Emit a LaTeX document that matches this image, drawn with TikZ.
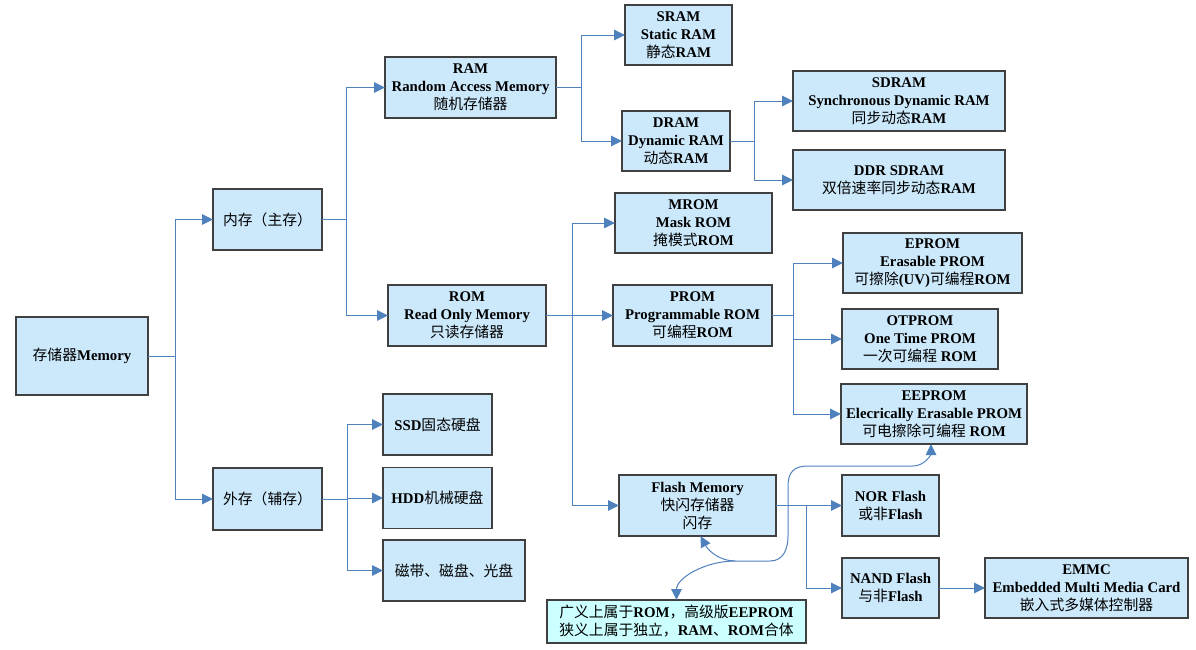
\documentclass[tikz,border=0pt]{standalone}
\usepackage{fontspec}
\setmainfont{Liberation Serif}
\newfontfamily\cjkfont{Noto Sans CJK SC}
\usepackage{tikz}
\usetikzlibrary{positioning, arrows.meta}
\definecolor{myboxblue}{RGB}{204, 233, 252}
\definecolor{mynotecyan}{RGB}{204, 255, 255}
\definecolor{mylineblue}{RGB}{79, 129, 189}
\newcommand{\zh}[1]{{\cjkfont\mdseries #1}}

\begin{document}
\begin{tikzpicture}[x = 1pt, y = -1pt, > = {Triangle[length = 11pt, width = 10.5pt]},
  block/.style={draw = black!75, line width = 1.2pt, fill = myboxblue, align = center, inner sep = 0pt, outer sep = 0pt,
    font = \bfseries\fontsize{14.8}{18}\selectfont},
  link/.style={->, draw = mylineblue, line width = 1pt}]
  \useasboundingbox (0,0) rectangle (1196,649);

  % nodes
  \node [block, minimum width = 132pt, minimum height = 78pt] (storage) at (82,356) {\zh{存储器}Memory};

  \node [block, minimum width = 109pt, minimum height = 61pt] [right = 65pt of storage, yshift = 136.5pt] (main-mem) {\zh{内存（主存）}};
  \node [block, minimum width = 109pt, minimum height = 62pt] [right = 65pt of storage, yshift = -143pt] (ext-mem) {\zh{外存（辅存）}};

  \node [block, minimum width = 171pt, minimum height = 61pt] [right = 63pt of main-mem, yshift = 132pt] (ram) {RAM\\Random Access Memory\\\zh{随机存储器}};
  \node [block, minimum width = 158pt, minimum height = 61pt] [right = 66pt of main-mem, yshift = -96pt] (rom) {ROM\\Read Only Memory\\\zh{只读存储器}};

  \node [block, minimum width = 109pt, minimum height = 61pt] [right = 61pt of ext-mem, yshift = 74.5pt] (ssd) {SSD\zh{固态硬盘}};
  \node [block, minimum width = 109pt, minimum height = 61pt] [right = 61pt of ext-mem, yshift = 1pt] (hdd) {HDD\zh{机械硬盘}};
  \node [block, minimum width = 142pt, minimum height = 61pt] [right = 61pt of ext-mem, yshift = -71.5pt] (tape) {\zh{磁带、磁盘、光盘}};

  \node [block, minimum width = 107pt, minimum height = 60pt] [right = 69pt of ram, yshift = 52.5pt] (sram) {SRAM\\Static RAM\\\zh{静态}RAM};
  \node [block, minimum width = 108pt, minimum height = 60pt] [right = 66pt of ram, yshift = -53.5pt] (dram) {DRAM\\Dynamic RAM\\\zh{动态}RAM};

  \node [block, minimum width = 212pt, minimum height = 60pt] [right = 63pt of dram, yshift = 40pt] (sdram) {SDRAM\\Synchronous Dynamic RAM\\\zh{同步动态}RAM};
  \node [block, minimum width = 212pt, minimum height = 60pt] [right = 63pt of dram, yshift = -39pt] (ddr-sdram) {DDR SDRAM\\\zh{双倍速率同步动态}RAM};

  \node [block, minimum width = 157pt, minimum height = 60pt] [right = 69pt of rom, yshift = 92.5pt] (mrom) {MROM\\Mask ROM\\\zh{掩模式}ROM};
  \node [block, minimum width = 159pt, minimum height = 61pt] [right = 67pt of rom] (prom) {PROM\\Programmable ROM\\\zh{可编程}ROM};
  \node [block, minimum width = 157pt, minimum height = 61pt] [right = 73pt of rom, yshift = -190pt] (flash) {Flash Memory\\\zh{快闪存储器}\\\zh{闪存}};

  \node [block, minimum width = 179pt, minimum height = 60pt] [right = 71pt of prom, yshift = 52.5pt] (eprom) {EPROM\\Erasable PROM\\\zh{可擦除}(UV)\zh{可编程}ROM};
  \node [block, minimum width = 156pt, minimum height = 60pt] [right = 70pt of prom, yshift = -23.5pt] (otprom) {OTPROM\\One Time PROM\\\zh{一次可编程} ROM};
  \node [block, minimum width = 186pt, minimum height = 60pt] [right = 69pt of prom, yshift = -98.5pt] (eeprom) {EEPROM\\Elecrically Erasable PROM\\\zh{可电擦除可编程} ROM};

  \node [block, minimum width = 97pt, minimum height = 61pt] [right = 66pt of flash] (nor-flash) {NOR Flash\\\zh{或非}Flash};
  \node [block, minimum width = 97pt, minimum height = 60pt] [right = 66pt of flash, yshift = -82.5pt] (nand-flash) {NAND Flash\\\zh{与非}Flash};
  \node [block, minimum width = 203pt, minimum height = 60pt] [right = 46pt of nand-flash] (emmc) {EMMC\\Embedded Multi Media Card\\\zh{嵌入式多媒体控制器}};

  \node [block, fill = mynotecyan, minimum width = 259pt, minimum height = 43pt] [below = 64pt of flash, xshift = -21pt] (flash-note) {\zh{广义上属于}ROM\zh{，高级版}EEPROM\\\zh{狭义上属于独立，}RAM\zh{、}ROM\zh{合体}};

  \coordinate (hub) at (735,561);

  % edges
  \draw [link] (storage.east) -- ++(27,0) |- (main-mem);
  \draw [link] (storage.east) -- ++(27,0) |- (ext-mem);

  \draw [link] (main-mem.east) -- ++(24,0) |- (ram);
  \draw [link] (main-mem.east) -- ++(24,0) |- (rom);

  \draw [link] (ext-mem.east) -- ++(25,0) |- (ssd);
  \draw [link] (ext-mem.east) -- ++(25,0) |- (hdd);
  \draw [link] (ext-mem.east) -- ++(25,0) |- (tape);

  \draw [link] (ram.east) -- ++(25,0) |- (sram);
  \draw [link] (ram.east) -- ++(25,0) |- (dram);

  \draw [link] (dram.east) -- ++(24,0) |- (sdram);
  \draw [link] (dram.east) -- ++(24,0) |- (ddr-sdram);

  \draw [link] (rom.east) -- ++(26,0) |- (mrom);
  \draw [link] (rom.east) -- (prom);
  \draw [link] (rom.east) -- ++(26,0) |- (flash);

  \draw [link] (prom.east) -- ++(21,0) |- (eprom);
  \draw [link] (prom.east) -- ++(21,0) |- (otprom);
  \draw [link] (prom.east) -- ++(21,0) |- (eeprom);

  \draw [link] (flash.east) -- ++(30,0) |- (nor-flash);
  \draw [link] (flash.east) -- ++(30,0) |- (nand-flash);
  \draw [link] (nand-flash) -- (emmc);

  % note curves
  \draw [link, <-] (flash-note.north) .. controls +(0,-22) and +(-30,0) .. (hub);
  \draw [link, <-] ([xshift = 3pt]flash.south) .. controls +(8,15) and +(-15,0) .. (hub);
  \draw [link] (hub) -- ++(35,0) .. controls +(14,0) and +(0,12) .. ++(18,-25) -- ++(0,-50)
    .. controls +(0,-14) and +(-14,0) .. ++(20,-20) -- ++(105,0)
    .. controls +(12,0) and +(0,10) .. ([xshift = -3pt]eeprom.south);
\end{tikzpicture}
\end{document}
